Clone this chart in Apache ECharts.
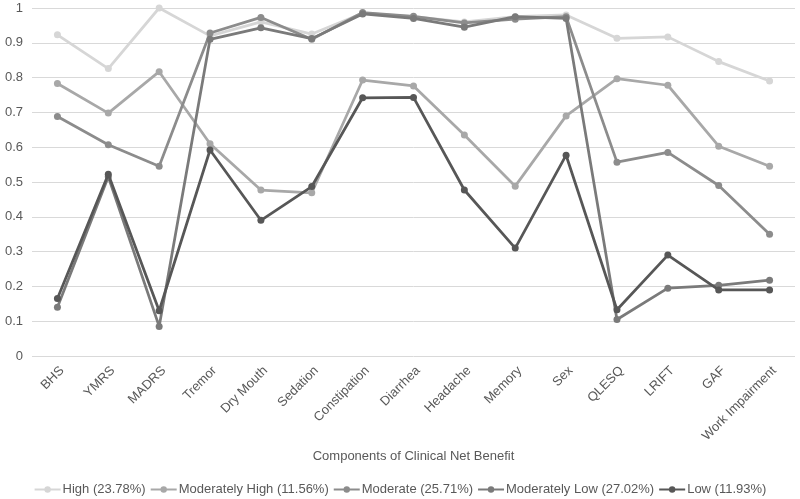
<!DOCTYPE html>
<html><head><meta charset="utf-8">
<script src="https://cdn.jsdelivr.net/npm/echarts@6/dist/echarts.min.js"></script>
<style>html,body{margin:0;padding:0;background:#fff}#c{width:800px;height:499px}</style>
</head><body><div id="c"></div>
<script>
const categories = ["BHS","YMRS","MADRS","Tremor","Dry Mouth","Sedation","Constipation","Diarrhea","Headache","Memory","Sex","QLESQ","LRIFT","GAF","Work Impairment"];
const seriesNames = ["High (23.78%)","Moderately High (11.56%)","Moderate (25.71%)","Moderately Low (27.02%)","Low (11.93%)"];
const high = [0.923,0.826,1.0,0.92,0.96,0.925,0.985,0.975,0.96,0.975,0.98,0.913,0.917,0.846,0.79];
const modHigh = [0.783,0.698,0.817,0.61,0.477,0.469,0.793,0.776,0.635,0.488,0.69,0.797,0.778,0.603,0.545];
const moderate = [0.688,0.607,0.545,0.928,0.973,0.91,0.987,0.976,0.957,0.968,0.975,0.557,0.585,0.49,0.35];
const modLow = [0.14,0.515,0.085,0.91,0.943,0.912,0.983,0.97,0.945,0.975,0.97,0.105,0.195,0.203,0.218];
const low = [0.165,0.522,0.13,0.592,0.39,0.487,0.742,0.743,0.477,0.31,0.577,0.133,0.29,0.19,0.19];
const yTicks = [0,0.1,0.2,0.3,0.4,0.5,0.6,0.7,0.8,0.9,1];

const colors = ["#d6d6d6","#a8a8a8","#8c8c8c","#7a7a7a","#575757"];
const datas = [high, modHigh, moderate, modLow, low];
const chart = echarts.init(document.getElementById('c'));
chart.setOption({
  animation:false,
  color: colors,
  textStyle:{fontFamily:'Liberation Sans, Arial, sans-serif'},
  grid:{left:32,right:5,top:8,bottom:143,containLabel:false},
  legend:{
    top:478, left:'center', itemWidth:26, itemHeight:8, itemGap:4,
    textStyle:{fontSize:13,color:'#595959',padding:[0,0,0,-3]},
    data: seriesNames
  },
  xAxis:{
    type:'category', data:categories, boundaryGap:true,
    name:'Components of Clinical Net Benefit', nameLocation:'middle', nameGap:93,
    nameTextStyle:{fontSize:13,color:'#595959'},
    axisLine:{show:false}, axisTick:{show:false},
    axisLabel:{rotate:45,fontSize:13,color:'#595959',margin:8,interval:0,verticalAlign:'top'}
  },
  yAxis:{
    type:'value', min:0, max:1, interval:0.1,
    axisLabel:{fontSize:13,color:'#595959',margin:9,formatter:v=>String(+v.toFixed(1))},
    splitLine:{lineStyle:{color:'#d9d9d9',width:1}},
    axisLine:{show:false}, axisTick:{show:false}
  },
  series: datas.map((d,i)=>({
    name: seriesNames[i], type:'line', data:d,
    symbol:'circle', symbolSize:7,
    lineStyle:{width:2.75,color:colors[i]},
    itemStyle:{color:colors[i]},
    z: 2+i
  }))
});
</script></body></html>
